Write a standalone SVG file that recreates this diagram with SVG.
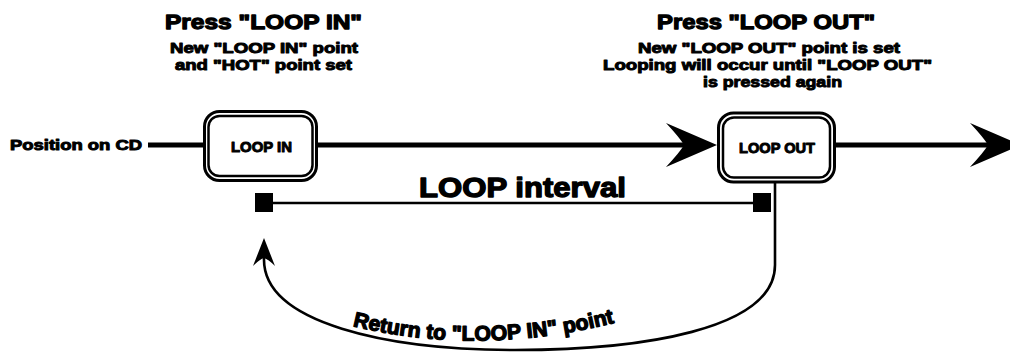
<svg xmlns="http://www.w3.org/2000/svg" width="1010" height="352" viewBox="0 0 1010 352">
<style>
text{font-family:"Liberation Sans",Arial,sans-serif;font-weight:bold;fill:#000;stroke:#000;stroke-width:1;stroke-linejoin:round}
.big{stroke-width:1.3}
.frame{fill:#fff;stroke:#000;stroke-width:3}
.inner{fill:none;stroke:#000;stroke-width:2.5}
.main{stroke:#000;stroke-width:5;fill:none}
.thin{stroke:#000;stroke-width:2.6;fill:none}
</style>
<defs>
<path id="bigArrow" d="M0,0 L-51,-22 Q-37,-7 -33,0 Q-37,7 -51,22 Z" fill="#000"/>
<path id="arc" d="M338,322 Q480,362 640,316"/>
</defs>
<g id="connectors">
<line class="main" x1="148" y1="145" x2="205" y2="145"/>
<line class="main" x1="316" y1="145" x2="690" y2="145"/>
<line class="main" x1="834" y1="145" x2="990" y2="145"/>
<use href="#bigArrow" x="717" y="145"/>
<use href="#bigArrow" x="1021" y="145"/>
<line class="thin" x1="273" y1="203" x2="754" y2="203"/>
<rect x="255" y="193" width="18" height="19" fill="#000"/>
<rect x="753" y="193" width="18" height="19" fill="#000"/>
<path class="thin" d="M775,181 L775,265 C775,330 640,350 515,350 C390,350 262,324 264,258"/>
<path d="M264,238 L275,266 Q268,259 264,258 Q260,259 253,266 Z" fill="#000"/>
</g>
<g id="loop-in">
<rect class="frame" x="204.5" y="111.5" width="112" height="69" rx="15"/>
<rect class="inner" x="208.5" y="116" width="104" height="60" rx="11"/>
<text x="231" y="152" font-size="15" textLength="61" lengthAdjust="spacingAndGlyphs">LOOP IN</text>
</g>
<g id="loop-out">
<rect class="frame" x="718.5" y="113" width="116" height="69" rx="15"/>
<rect class="inner" x="723" y="117.5" width="107" height="60" rx="11"/>
<text x="739" y="153" font-size="15" textLength="76" lengthAdjust="spacingAndGlyphs">LOOP OUT</text>
</g>
<g id="labels">
<text x="10" y="150" font-size="15" textLength="132" lengthAdjust="spacingAndGlyphs">Position on CD</text>
<text class="big" x="165" y="29" font-size="21" textLength="197" lengthAdjust="spacingAndGlyphs">Press "LOOP IN"</text>
<text x="170" y="53" font-size="15" textLength="188" lengthAdjust="spacingAndGlyphs">New "LOOP IN" point</text>
<text x="175" y="70" font-size="15" textLength="177" lengthAdjust="spacingAndGlyphs">and "HOT" point set</text>
<text class="big" x="657" y="29" font-size="21" textLength="218" lengthAdjust="spacingAndGlyphs">Press "LOOP OUT"</text>
<text x="638" y="53" font-size="15" textLength="262" lengthAdjust="spacingAndGlyphs">New "LOOP OUT" point is set</text>
<text x="603" y="70" font-size="15" textLength="329" lengthAdjust="spacingAndGlyphs">Looping will occur until "LOOP OUT"</text>
<text x="703" y="87" font-size="15" textLength="139" lengthAdjust="spacingAndGlyphs">is pressed again</text>
<text class="big" x="419" y="197" font-size="27" textLength="207" lengthAdjust="spacingAndGlyphs">LOOP interval</text>
<text class="big" font-size="21"><textPath href="#arc" startOffset="15" textLength="265" lengthAdjust="spacingAndGlyphs">Return to "LOOP IN" point</textPath></text>
</g>
</svg>
